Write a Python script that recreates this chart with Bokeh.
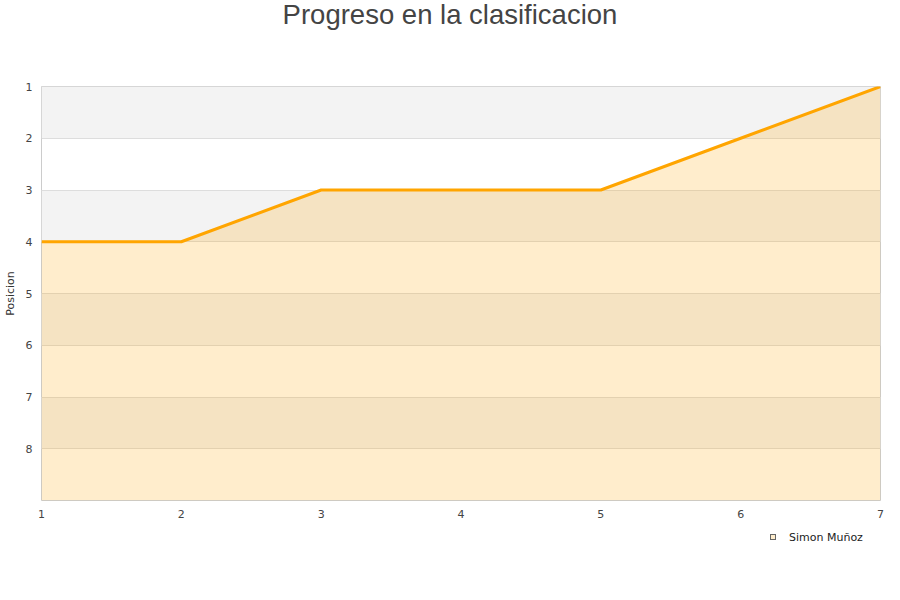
from bokeh.plotting import figure
from bokeh.models import Range1d, FixedTicker, ColumnDataSource, Div, BoxAnnotation
from bokeh.layouts import column
from bokeh.embed import file_html
from bokeh.resources import INLINE

# datos del progreso
jornadas = [1, 2, 3, 4, 5, 6, 7]
posicion = [4, 4, 3, 3, 3, 2, 1]
jugador = "Simon Muñoz"
titulo = "Progreso en la clasificacion"
ultima_posicion = 9
y_ticks = [1, 2, 3, 4, 5, 6, 7, 8]
grid_ticks = [1, 2, 3, 4, 5, 6, 7, 8, 9]

source = ColumnDataSource(data=dict(
    x=jornadas,
    y=posicion,
    base=[ultima_posicion] * len(jornadas),
))

# titulo
title_div = Div(text=titulo, width=900, height=30, margin=(0, 0, 0, 0),
                styles={"font-family": "Liberation Sans", "font-size": "27.5px",
                        "color": "#444444", "text-align": "center",
                        "line-height": "30px", "width": "900px"})

p = figure(width=884, height=498, output_backend="svg", toolbar_location=None,
           x_range=Range1d(1, 7), y_range=Range1d(ultima_posicion, 1),
           min_border_left=40, min_border_right=4, min_border_top=56,
           min_border_bottom=28, margin=(0, 0, 0, 0))

p.outline_line_color = "#cccccc"
p.background_fill_color = "white"

# bandas alternas (gris en 1-2, 3-4, 5-6, 7-8), debajo de las lineas de rejilla
bandas = [BoxAnnotation(bottom=t, top=t + 1, fill_color="#f3f3f3", fill_alpha=1.0,
                        line_color=None, level="underlay")
          for t in y_ticks[::2]]
p.xgrid.grid_line_color = None
p.ygrid.ticker = FixedTicker(ticks=grid_ticks)
p.ygrid.grid_line_color = "#dddddd"
p.center = bandas + list(p.center)

p.varea(x="x", y1="base", y2="y", source=source,
        fill_color="#ffa500", fill_alpha=0.2)
p.line(x="x", y="y", source=source, line_color="#ffa500", line_width=3)

# ejes
p.xaxis.ticker = FixedTicker(ticks=jornadas)
p.yaxis.ticker = FixedTicker(ticks=y_ticks)
for ax in (p.xaxis[0], p.yaxis[0]):
    ax.axis_line_color = None
    ax.major_tick_line_color = None
    ax.minor_tick_line_color = None
    ax.major_tick_out = 0
    ax.major_tick_in = 0
    ax.minor_tick_out = 0
    ax.minor_tick_in = 0
    ax.major_label_text_font = "DejaVu Sans"
    ax.major_label_text_font_size = "11px"
    ax.major_label_text_color = "#444444"
p.xaxis.major_label_standoff = 9
p.yaxis.major_label_standoff = 9
p.yaxis.axis_label = "Posicion"
p.yaxis.axis_label_text_font = "DejaVu Sans"
p.yaxis.axis_label_text_font_size = "11px"
p.yaxis.axis_label_text_font_style = "normal"
p.yaxis.axis_label_text_color = "#333333"
p.yaxis.axis_label_standoff = 6

# leyenda (fuera del area del grafico)
legend_html = (
    '<div style="position:relative;height:24px;width:884px">'
    '<span style="position:absolute;left:770px;top:6px;width:6px;height:6px;'
    'background:#ffedcc;border:1px solid #666666"></span>'
    '<span style="position:absolute;left:789px;top:1px;line-height:18px;'
    'font-family:\'DejaVu Sans\';font-size:11px;color:#222222;white-space:nowrap">'
    + jugador + '</span></div>'
)
legend_div = Div(text=legend_html, width=884, height=24, margin=(0, 0, 0, 0))

layout = column(title_div, p, legend_div)

open("out.html", "w").write(file_html(layout, INLINE))
